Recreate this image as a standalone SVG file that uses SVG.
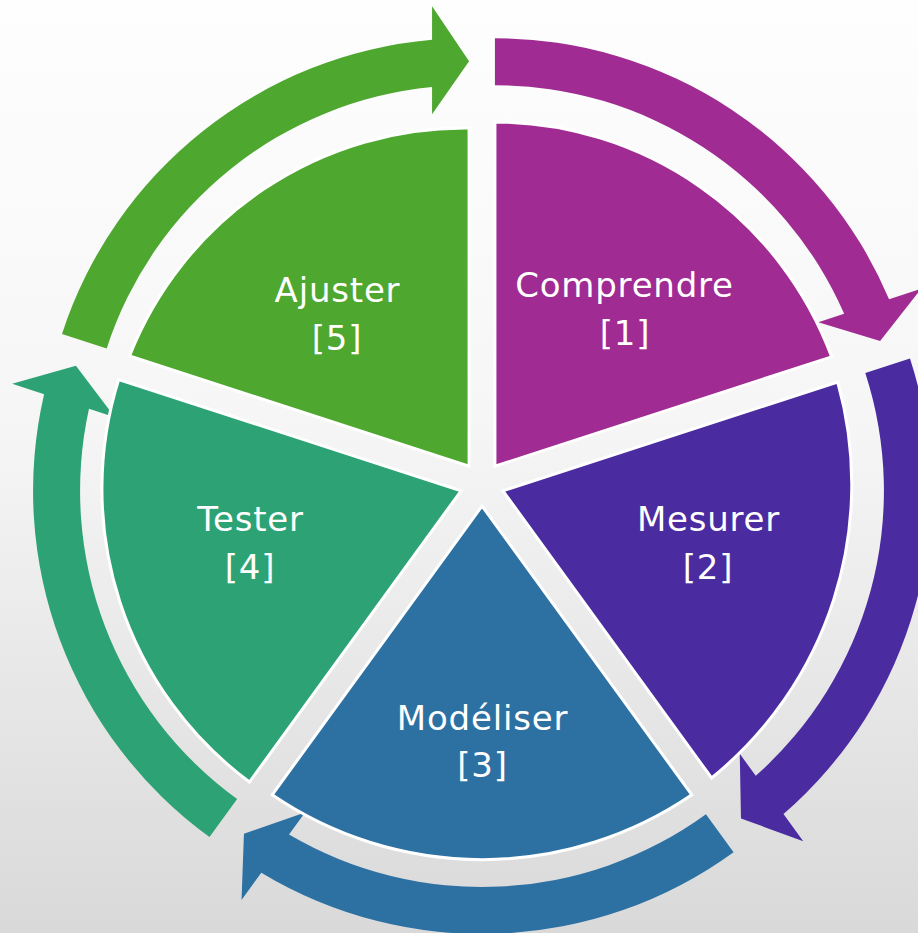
<svg xmlns="http://www.w3.org/2000/svg" width="918" height="933" viewBox="0 0 918 933">
  <defs>
    <linearGradient id="bg" x1="0" y1="0" x2="0" y2="1">
      <stop offset="0" stop-color="#fefefe"/>
      <stop offset="0.45" stop-color="#f6f6f6"/>
      <stop offset="1" stop-color="#d9d9d9"/>
    </linearGradient>
  </defs>
  <style>
    .wedge { stroke: #ffffff; stroke-width: 3; stroke-linejoin: miter; }
    .arrow { stroke: none; }
    .lbl { font-family: "DejaVu Sans", "Liberation Sans", sans-serif; font-size: 34px; letter-spacing: 0.8px; fill: #ffffff; text-anchor: middle; }
    .c1 { fill: #A02B93; }
    .c2 { fill: #4B2BA0; }
    .c3 { fill: #2D71A3; }
    .c4 { fill: #2DA375; }
    .c5 { fill: #4EA72E; }
  </style>
  <rect x="0" y="0" width="918" height="933" fill="url(#bg)"/>

  <g id="connectors">
    <path class="arrow c1" d="M 494.93 38.20 A 428 428 0 0 1 889.05 299.25 L 921.01 288.87 L 880.11 341.05 L 818.29 322.24 L 844.16 313.84 A 381 381 0 0 0 494.93 85.20 Z"/>
    <path class="arrow c2" d="M 909.99 358.55 A 428 428 0 0 1 783.49 814.01 L 803.24 841.19 L 740.98 818.45 L 739.76 753.82 L 755.74 775.82 A 381 381 0 0 0 865.29 373.07 Z"/>
    <path class="arrow c3" d="M 733.58 852.25 A 428 428 0 0 1 261.29 872.71 L 241.54 899.89 L 243.94 833.65 L 305.02 812.52 L 289.04 834.52 A 381 381 0 0 0 705.95 814.23 Z"/>
    <path class="arrow c4" d="M 209.50 837.05 A 428 428 0 0 1 44.10 394.23 L 12.14 383.85 L 75.90 365.65 L 114.86 417.22 L 88.99 408.82 A 381 381 0 0 0 237.13 799.03 Z"/>
    <path class="arrow c5" d="M 62.00 333.95 A 428 428 0 0 1 432.07 39.80 L 432.07 6.20 L 469.07 61.20 L 432.07 114.20 L 432.07 87.00 A 381 381 0 0 0 106.70 348.47 Z"/>
  </g>

  <g id="node-comprendre">
    <path class="wedge c1" d="M 494.93 466.20 L 494.93 122 A 360 360 0 0 1 831.62 356.81 Z"/>
    <text class="lbl" x="624.5" y="297">Comprendre</text>
    <text class="lbl" x="625" y="345">[1]</text>
  </g>
  <g id="node-mesurer">
    <path class="wedge c2" d="M 502.92 490.80 L 837.71 382.03 A 378 378 0 0 1 711.59 778.00 Z"/>
    <text class="lbl" x="708.5" y="531">Mesurer</text>
    <text class="lbl" x="708" y="579">[2]</text>
  </g>
  <g id="node-modeliser">
    <path class="wedge c3" d="M 482 506 L 691.84 794.81 A 372 372 0 0 1 272.16 794.81 Z"/>
    <text class="lbl" x="482.5" y="730">Modéliser</text>
    <text class="lbl" x="482.5" y="777">[3]</text>
  </g>
  <g id="node-tester">
    <path class="wedge c4" d="M 461.08 490.80 L 249.47 782.04 A 365 365 0 0 1 118.68 379.56 Z"/>
    <text class="lbl" x="250.5" y="531">Tester</text>
    <text class="lbl" x="250" y="579">[4]</text>
  </g>
  <g id="node-ajuster">
    <path class="wedge c5" d="M 469.07 466.20 L 129.53 355.89 A 360 360 0 0 1 469.07 128 Z"/>
    <text class="lbl" x="337.5" y="302">Ajuster</text>
    <text class="lbl" x="337" y="350">[5]</text>
  </g>
</svg>
